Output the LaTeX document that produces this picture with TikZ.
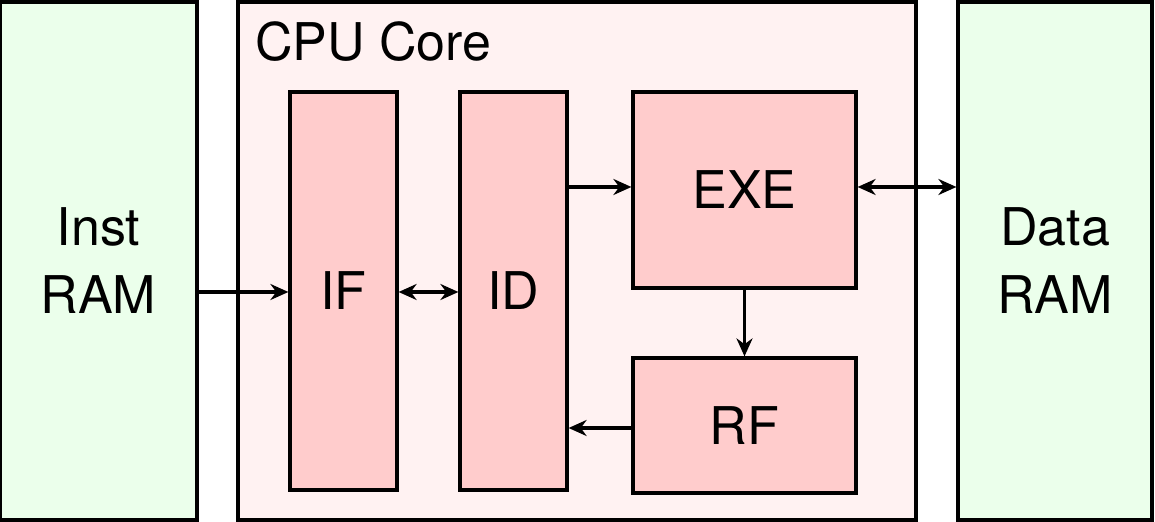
\documentclass[tikz,border=0pt]{standalone}
\usepackage{fontspec}
\setmainfont{TeX Gyre Heros}
\usetikzlibrary{arrows.meta}
\begin{document}
\begin{tikzpicture}[x=0.5pt,y=-0.5pt,
  box/.style={draw=black,line width=1.6pt,inner sep=0pt,align=center,font=\fontsize{26}{34}\selectfont},
  ram/.style={box,fill=green!8},
  blk/.style={box,fill=red!20},
  arr/.style={line width=1.6pt,-{Stealth[length=9pt,width=8pt]}},
  darr/.style={line width=1.6pt,{Stealth[length=9pt,width=8pt]}-{Stealth[length=9pt,width=8pt]}}]
\useasboundingbox (0,0) rectangle (1155,522);
\node[ram,minimum width=98.5pt,minimum height=259pt] (inst) at (98.5,261) {Inst\\RAM};
\node[box,fill=red!5,minimum width=339pt,minimum height=259pt] (cpu) at (577,261) {};
\node[anchor=west,font=\fontsize{26}{30}\selectfont] (lbl) at (248,42) {CPU Core};
\node[ram,minimum width=97pt,minimum height=259pt] (data) at (1055,261) {Data\\RAM};
\node[blk,minimum width=53.5pt,minimum height=199pt] (if) at (343.5,291) {IF};
\node[blk,minimum width=53.5pt,minimum height=199pt] (id) at (513.5,291) {ID};
\node[blk,minimum width=111.5pt,minimum height=98pt] (exe) at (744.5,190) {EXE};
\node[blk,minimum width=111.5pt,minimum height=67.5pt] (rf) at (744.5,425.5) {RF};
\draw[arr] (inst.east|-0,292) -- (if.west|-0,292);
\draw[darr] (if.east|-0,292) -- (id.west|-0,292);
\draw[arr] (id.east|-0,187) -- (exe.west|-0,187);
\draw[darr] (exe.east|-0,187) -- (data.west|-0,187);
\draw[arr] (exe.south) -- (rf.north);
\draw[arr] (rf.west|-0,428) -- (id.east|-0,428);
\end{tikzpicture}
\end{document}
